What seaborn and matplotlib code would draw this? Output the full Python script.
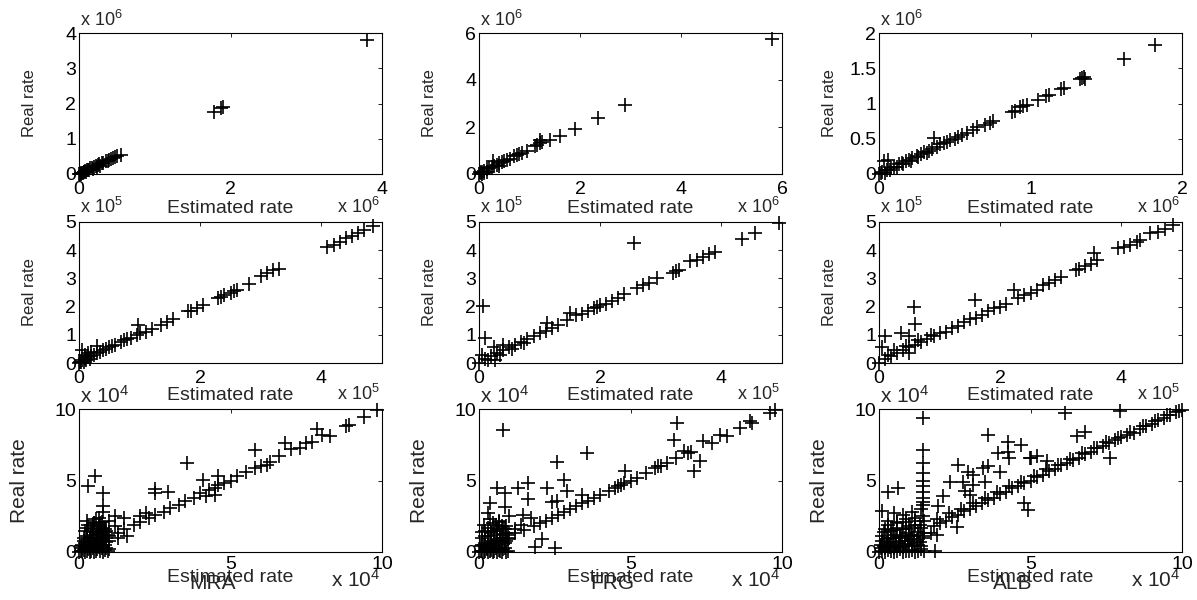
import matplotlib
matplotlib.use('Agg')
import matplotlib.pyplot as plt
import seaborn as sns

# ---------------- data (in the shown units) ----------------
methods = ['MRA', 'FRG', 'ALB']
row_exp = [6, 5, 4]          # axis multiplier 10^n for each row

# row 1 (x 10^6)
mra1_x = [3.8, 1.9, 1.87, 1.78, 0.55, 0.5, 0.47, 0.45, 0.42, 0.4, 0.38, 0.35, 0.32, 0.3,
          0.27, 0.25, 0.22, 0.2, 0.17, 0.15, 0.12, 0.1, 0.08, 0.06, 0.04, 0.02, 0.01, 0.0,
          0.03, 0.05, 0.07, 0.09, 0.13, 0.18, 0.24, 0.28]
mra1_y = [3.8, 1.9, 1.88, 1.75, 0.55, 0.52, 0.47, 0.46, 0.42, 0.41, 0.38, 0.36, 0.32, 0.31,
          0.27, 0.26, 0.22, 0.21, 0.17, 0.16, 0.12, 0.11, 0.08, 0.07, 0.04, 0.03, 0.01, 0.0,
          0.01, 0.03, 0.05, 0.06, 0.1, 0.15, 0.2, 0.24]
frg1_x = [5.8, 2.9, 2.35, 1.9, 1.6, 1.4, 1.25, 1.2, 1.2, 1.15, 1.1, 0.95, 0.85, 0.8, 0.75,
          0.7, 0.62, 0.55, 0.5, 0.45, 0.4, 0.35, 0.3, 0.27, 0.25, 0.2, 0.15, 0.1, 0.06, 0.03,
          0.0, 0.02, 0.05, 0.1, 0.15, 0.4]
frg1_y = [5.75, 2.95, 2.4, 1.9, 1.6, 1.45, 1.35, 1.45, 1.3, 1.25, 1.2, 1.0, 0.9, 0.85, 0.8,
          0.75, 0.65, 0.6, 0.55, 0.5, 0.45, 0.4, 0.35, 0.55, 0.3, 0.25, 0.2, 0.12, 0.08, 0.04,
          0.0, 0.1, 0.02, 0.05, 0.1, 0.35]
alb1_x = [1.82, 1.62, 1.35, 1.34, 1.33, 1.36, 1.22, 1.2, 1.12, 1.1, 1.05, 0.98, 0.95, 0.93,
          0.9, 0.88, 0.75, 0.73, 0.7, 0.65, 0.62, 0.58, 0.55, 0.52, 0.5, 0.47, 0.45, 0.43,
          0.4, 0.38, 0.36, 0.35, 0.33, 0.3, 0.28, 0.25, 0.22, 0.2, 0.18, 0.15, 0.13, 0.1,
          0.08, 0.06, 0.05, 0.03, 0.02, 0.01, 0.0, 0.04, 0.07, 0.12, 0.16, 0.21, 0.26, 0.32]
alb1_y = [1.83, 1.63, 1.37, 1.36, 1.35, 1.35, 1.22, 1.2, 1.12, 1.1, 1.05, 0.98, 0.96, 0.95,
          0.9, 0.88, 0.75, 0.73, 0.7, 0.66, 0.62, 0.58, 0.56, 0.52, 0.5, 0.48, 0.46, 0.44,
          0.42, 0.38, 0.51, 0.36, 0.33, 0.31, 0.28, 0.26, 0.23, 0.2, 0.19, 0.16, 0.14, 0.1,
          0.09, 0.2, 0.06, 0.18, 0.03, 0.01, 0.0, 0.02, 0.05, 0.1, 0.14, 0.19, 0.24, 0.3]

# row 2 (x 10^5)
mra2_x = [4.85, 4.7, 4.6, 4.5, 4.4, 4.3, 4.2, 4.1, 3.3, 3.2, 3.1, 3.0, 2.8, 2.6, 2.55, 2.5,
          2.4, 2.35, 2.3, 2.05, 1.95, 1.85, 1.8, 1.55, 1.45, 1.35, 1.2, 1.1, 1.0, 0.95, 0.98,
          0.85, 0.8, 0.75, 0.7, 0.6, 0.55, 0.5, 0.45, 0.4, 0.35, 0.3, 0.3, 0.25, 0.2, 0.15,
          0.1, 0.05, 0.05, 0.02, 0.0, 0.03, 0.08, 0.12, 0.18, 0.1, 0.2, 0.15]
mra2_y = [4.85, 4.7, 4.6, 4.5, 4.45, 4.3, 4.2, 4.1, 3.35, 3.3, 3.2, 3.1, 2.8, 2.6, 2.55, 2.5,
          2.4, 2.35, 2.3, 2.05, 1.95, 1.85, 1.85, 1.55, 1.45, 1.35, 1.2, 1.1, 1.05, 1.0, 1.36,
          0.9, 0.85, 0.8, 0.75, 0.65, 0.6, 0.55, 0.5, 0.45, 0.4, 0.6, 0.35, 0.3, 0.25, 0.2,
          0.15, 0.45, 0.1, 0.05, 0.0, 0.02, 0.05, 0.1, 0.15, 0.3, 0.4, 0.35]
frg2_x = [4.95, 4.56, 4.34, 2.55, 3.9, 3.8, 3.7, 3.6, 3.49, 3.3, 3.25, 3.2, 2.93, 2.8, 2.7,
          2.6, 2.4, 2.3, 2.2, 2.1, 2.0, 1.95, 1.9, 1.8, 1.5, 1.6, 1.7, 1.45, 1.3, 1.2, 1.12,
          1.1, 1.0, 0.9, 0.8, 0.7, 0.6, 0.5, 0.4, 0.4, 0.3, 0.25, 0.2, 0.1, 0.07, 0.1, 0.0,
          0.26, 0.05, 0.15, 0.35, 0.55, 0.75]
frg2_y = [4.97, 4.6, 4.39, 4.25, 3.95, 3.85, 3.75, 3.65, 3.6, 3.3, 3.25, 3.2, 3.0, 2.85, 2.75,
          2.65, 2.45, 2.3, 2.2, 2.1, 2.05, 2.0, 1.95, 1.85, 1.77, 1.7, 1.75, 1.53, 1.35, 1.25,
          1.41, 1.15, 1.05, 0.95, 0.85, 0.75, 0.65, 0.55, 0.45, 0.65, 0.35, 0.55, 0.25, 0.15,
          2.03, 0.9, 0.0, 0.12, 0.3, 0.1, 0.3, 0.5, 0.7]
alb2_x = [4.85, 4.72, 4.6, 4.48, 4.3, 4.26, 4.15, 4.05, 3.95, 3.55, 3.6, 3.5, 3.4, 3.3, 3.25,
          3.0, 2.9, 2.8, 2.7, 2.6, 2.5, 2.4, 2.3, 2.22, 2.1, 2.0, 1.9, 1.8, 1.7, 1.6, 1.59,
          1.5, 1.4, 1.3, 1.2, 1.1, 1.0, 0.9, 0.8, 0.7, 0.6, 0.5, 0.4, 0.3, 0.2, 0.1, 0.0,
          0.57, 0.6, 0.1, 0.37, 0.5, 0.05, 0.15, 0.5, 0.25, 0.45, 0.65, 0.85]
alb2_y = [4.9, 4.74, 4.65, 4.6, 4.35, 4.3, 4.2, 4.1, 4.07, 3.9, 3.65, 3.5, 3.45, 3.35, 3.3,
          3.05, 2.95, 2.85, 2.75, 2.6, 2.5, 2.4, 2.3, 2.6, 2.1, 2.0, 1.95, 1.85, 1.7, 1.6, 2.24,
          1.55, 1.45, 1.3, 1.25, 1.1, 1.05, 0.95, 0.85, 0.75, 0.65, 0.55, 0.45, 0.35, 0.25,
          0.15, 0.0, 2.0, 1.4, 0.97, 1.06, 0.95, 0.55, 0.3, 0.35, 0.45, 0.6, 0.8, 1.0]

# row 3 (x 10^4): diagonal band, scattered outliers, dense cluster near the origin
mra3_diag_x = [9.83, 9.39, 8.9, 8.8, 7.85, 8.02, 8.29, 6.8, 7.0, 7.3, 7.5, 7.7, 5.82, 6.6,
               6.3, 6.2, 6.0, 5.8, 5.5, 5.2, 5.0, 4.8, 4.6, 4.5, 4.3, 4.0, 3.8, 3.5, 3.3, 3.0,
               2.8, 2.5, 2.3, 2.0, 1.8, 1.5, 1.3, 1.0]
mra3_diag_y = [9.9, 9.44, 8.9, 8.8, 8.6, 8.2, 8.09, 7.62, 7.2, 7.3, 7.6, 7.7, 7.16, 6.7, 6.3,
               6.1, 6.0, 5.9, 5.6, 5.3, 5.0, 4.8, 4.7, 4.5, 4.35, 4.1, 3.8, 3.6, 3.3, 3.05,
               2.8, 2.6, 2.4, 2.1, 1.9, 1.6, 1.35, 1.1]
mra3_out_x = [3.56, 4.6, 4.1, 2.51, 2.51, 2.95, 0.53, 0.31, 0.8, 0.8, 0.8, 4.2, 4.5, 1.2,
              1.5, 2.0, 2.2, 1.0, 0.5]
mra3_out_y = [6.22, 5.3, 5.06, 4.4, 4.13, 4.17, 5.3, 4.6, 4.1, 3.2, 2.8, 3.9, 4.0, 2.5,
              2.4, 2.5, 2.7, 2.2, 2.0]
mra3_low_x = [0.0, 0.1, 0.2, 0.3, 0.4, 0.5, 0.6, 0.7, 0.8, 0.9, 1.0, 0.1, 0.2, 0.3, 0.4, 0.5,
              0.6, 0.7, 0.8, 0.9, 0.15, 0.25, 0.35, 0.45, 0.55, 0.65, 0.75, 0.85, 0.2, 0.4,
              0.6, 0.8, 0.3, 0.5, 0.7, 0.9, 0.25, 0.55, 0.75, 0.45, 0.65, 1.3, 1.6, 1.2, 0.05,
              0.35, 0.6, 0.85,
              0.05, 0.15, 0.25, 0.35, 0.45, 0.55, 0.65, 0.75, 0.85, 0.95, 0.1, 0.2, 0.3, 0.4,
              0.5, 0.6, 0.7, 0.8, 0.9, 1.0, 0.15, 0.35, 0.55, 0.75, 0.95, 0.25, 0.45, 0.65,
              0.85, 0.7]
mra3_low_y = [0.0, 0.1, 0.0, 0.2, 0.1, 0.0, 0.2, 0.1, 0.0, 0.3, 0.2, 0.5, 0.6, 0.4, 0.7, 0.5,
              0.8, 0.6, 0.9, 0.7, 1.0, 1.1, 0.9, 1.2, 1.0, 1.3, 1.1, 1.4, 1.5, 1.6, 1.5, 1.7,
              1.9, 2.0, 1.8, 1.5, 2.2, 2.3, 2.1, 1.8, 2.4, 1.0, 1.1, 1.8, 0.4, 0.3, 0.4, 0.5,
              0.05, 0.15, 0.1, 0.0, 0.25, 0.1, 0.35, 0.3, 0.15, 0.05, 0.3, 0.35, 0.6, 0.5,
              0.8, 0.55, 0.9, 0.45, 1.0, 0.8, 0.75, 1.0, 1.25, 1.3, 1.2, 1.7, 1.4, 1.9,
              1.6, 2.0]

frg3_diag_x = [9.78, 9.6, 8.95, 9.0, 8.62, 7.96, 7.4, 6.75, 6.9, 6.5, 6.2, 6.0, 5.8, 5.5,
               5.2, 5.0, 4.8, 4.6, 4.5, 4.3, 4.0, 3.8, 3.6, 3.4, 3.2, 3.0, 2.8, 2.6, 2.4, 2.2,
               2.0, 1.8, 1.5, 1.2, 1.0, 8.2, 7.0, 7.7, 5.9, 4.7]
frg3_diag_y = [9.9, 9.7, 9.14, 9.0, 8.67, 8.2, 7.74, 7.04, 6.9, 6.6, 6.2, 6.0, 5.9, 5.5, 5.2,
               5.0, 4.8, 4.6, 4.5, 4.3, 4.0, 3.8, 3.6, 3.4, 3.2, 3.0, 2.8, 2.6, 2.4, 2.2, 2.0,
               1.8, 1.55, 1.3, 1.0, 8.1, 7.0, 7.6, 6.0, 4.7]
frg3_out_x = [6.53, 6.42, 7.3, 7.08, 4.82, 2.79, 3.56, 2.57, 0.8, 2.24, 1.62, 1.3, 1.62, 0.6,
              0.86, 0.86, 0.36, 2.9, 2.57, 1.85, 2.08, 2.5, 1.45, 1.0, 1.7, 2.4, 3.4]
frg3_out_y = [9.02, 7.86, 6.34, 5.64, 5.64, 5.06, 6.9, 6.3, 8.55, 4.5, 4.8, 4.5, 3.7, 4.5,
              4.1, 3.15, 3.4, 4.3, 3.6, 0.35, 0.9, 0.28, 2.6, 2.5, 2.4, 3.5, 4.0]
frg3_low_x = [0.0, 0.1, 0.2, 0.3, 0.4, 0.5, 0.6, 0.7, 0.8, 0.9, 0.05, 0.15, 0.25, 0.35, 0.45,
              0.55, 0.65, 0.75, 0.85, 0.95, 0.1, 0.3, 0.5, 0.7, 0.9, 0.2, 0.4, 0.6, 0.8, 0.15,
              0.45, 0.75, 0.35, 0.65, 1.2, 1.4, 0.5, 0.3,
              0.05, 0.15, 0.25, 0.35, 0.45, 0.55, 0.65, 0.75, 0.85, 0.95, 0.1, 0.2, 0.3, 0.4,
              0.5, 0.6, 0.7, 0.8, 0.9, 0.95, 0.2, 0.4, 0.6, 0.8, 0.3, 0.55, 0.85, 0.1, 0.65,
              0.9]
frg3_low_y = [0.0, 0.05, 0.1, 0.0, 0.15, 0.05, 0.0, 0.1, 0.2, 0.0, 0.4, 0.5, 0.3, 0.6, 0.45,
              0.7, 0.55, 0.8, 0.65, 0.9, 1.0, 1.1, 1.2, 1.0, 1.3, 1.5, 1.4, 1.6, 1.7, 1.9,
              2.0, 1.8, 2.3, 2.2, 1.6, 1.9, 1.5, 2.7,
              0.1, 0.0, 0.2, 0.1, 0.0, 0.25, 0.15, 0.0, 0.3, 0.1, 0.5, 0.65, 0.45, 0.8,
              0.6, 0.9, 0.7, 1.0, 0.75, 1.2, 1.1, 1.3, 1.45, 1.25, 1.7, 1.9, 1.6, 1.4, 2.1,
              1.8]

alb3_diag_x = [10.0, 9.8, 9.6, 9.4, 9.2, 9.0, 8.8, 8.6, 8.4, 8.2, 8.0, 7.8, 7.6, 7.4, 7.2,
               7.0, 6.8, 6.6, 6.4, 6.2, 6.0, 5.8, 5.6, 5.4, 5.2, 5.0, 4.8, 4.6, 4.4, 4.2, 4.0,
               3.8, 3.6, 3.4, 3.2, 3.0, 2.8, 2.6, 2.4, 2.2, 2.0, 1.8,
               9.9, 9.5, 9.1, 8.7, 8.3, 7.9, 7.5, 7.1, 6.7, 6.3, 5.9, 5.5, 5.1, 4.7, 4.3, 3.9,
               3.5, 3.1, 2.7, 2.3, 1.9]
alb3_diag_y = [9.95, 9.8, 9.55, 9.4, 9.2, 8.95, 8.8, 8.6, 8.35, 8.2, 8.05, 7.8, 7.65, 7.4,
               7.25, 7.0, 6.85, 6.6, 6.45, 6.2, 6.05, 5.8, 5.65, 5.4, 5.25, 5.0, 4.85, 4.6,
               4.45, 4.2, 4.05, 3.8, 3.65, 3.4, 3.25, 3.0, 2.85, 2.6, 2.45, 2.2, 2.05, 1.8,
               9.85, 9.6, 9.15, 8.8, 8.4, 8.0, 7.7, 7.3, 6.9, 6.5, 6.1, 5.8, 5.3, 4.9, 4.6, 4.2,
               3.8, 3.4, 3.0, 2.7, 2.3]
alb3_out_x = [1.46, 6.15, 7.96, 3.6, 4.26, 4.7, 6.53, 6.8, 3.93, 4.26, 4.3, 5.0, 2.6, 2.94,
              3.1, 3.43, 3.6, 4.0, 2.34, 2.76, 3.1, 3.5, 2.84, 3.0, 2.1, 1.95, 4.77, 4.93,
              2.57, 1.9, 1.85, 0.3, 0.63, 0.1, 1.46, 1.46, 1.46, 1.46, 1.46, 1.46, 1.46, 5.2,
              5.54, 7.63, 4.99]
alb3_out_y = [9.37, 9.72, 9.84, 8.2, 7.7, 7.5, 8.09, 8.37, 6.9, 7.0, 6.6, 6.6, 6.1, 5.6, 5.4,
              5.9, 6.0, 5.6, 4.9, 4.9, 4.7, 4.9, 4.3, 4.0, 3.9, 3.2, 3.43, 2.96, 1.75, 1.2,
              0.05, 4.2, 4.5, 2.9, 7.1, 6.2, 5.5, 5.0, 4.6, 4.2, 3.8, 6.69, 6.34, 6.57, 6.57]
alb3_low_x = [0.0, 0.1, 0.2, 0.3, 0.4, 0.5, 0.6, 0.7, 0.8, 0.9, 1.0, 1.1, 1.2, 1.3, 1.4, 1.5,
              0.05, 0.15, 0.25, 0.35, 0.45, 0.55, 0.65, 0.75, 0.85, 0.95, 1.05, 1.15, 1.25,
              1.35, 1.45, 0.1, 0.3, 0.5, 0.7, 0.9, 1.1, 1.3, 1.5, 0.2, 0.4, 0.6, 0.8, 1.0, 1.2,
              1.4, 0.3, 0.6, 0.9, 1.2, 1.45, 0.5, 0.8, 1.1, 1.4, 1.45, 1.45, 1.7,
              0.05, 0.2, 0.35, 0.5, 0.65, 0.8, 0.95, 1.1, 1.25, 1.4, 0.1, 0.25, 0.4, 0.55, 0.7,
              0.85, 1.0, 1.15, 1.3, 1.45, 0.15, 0.45, 0.75, 1.05, 1.35, 0.3, 0.6, 0.9, 1.2,
              1.5]
alb3_low_y = [0.0, 0.1, 0.0, 0.15, 0.05, 0.0, 0.1, 0.2, 0.0, 0.1, 0.05, 0.15, 0.0, 0.1, 0.2,
              0.05, 0.5, 0.4, 0.6, 0.45, 0.7, 0.5, 0.65, 0.8, 0.55, 0.75, 0.9, 0.6, 0.85, 0.7,
              1.0, 1.1, 1.0, 1.2, 1.1, 1.3, 1.2, 1.4, 1.3, 1.6, 1.5, 1.7, 1.6, 1.8, 1.9, 1.7,
              2.2, 2.1, 2.3, 2.2, 2.5, 2.7, 2.6, 2.8, 3.0, 3.3, 3.5, 1.3,
              0.3, 0.25, 0.35, 0.3, 0.4, 0.35, 0.45, 0.4, 0.5, 0.45, 0.8, 0.9, 0.95, 1.0, 1.05,
              1.0, 1.1, 1.15, 1.2, 1.1, 1.4, 1.55, 1.6, 1.7, 1.9, 1.9, 2.0, 2.1, 2.4,
              2.2]

panels = {
    (0, 0): (mra1_x, mra1_y),
    (0, 1): (frg1_x, frg1_y),
    (0, 2): (alb1_x, alb1_y),
    (1, 0): (mra2_x, mra2_y),
    (1, 1): (frg2_x, frg2_y),
    (1, 2): (alb2_x, alb2_y),
    (2, 0): (mra3_diag_x + mra3_out_x + mra3_low_x, mra3_diag_y + mra3_out_y + mra3_low_y),
    (2, 1): (frg3_diag_x + frg3_out_x + frg3_low_x, frg3_diag_y + frg3_out_y + frg3_low_y),
    (2, 2): (alb3_diag_x + alb3_out_x + alb3_low_x, alb3_diag_y + alb3_out_y + alb3_low_y),
}

# axis limits / ticks
lims = {(0, 0): 4, (0, 1): 6, (0, 2): 2}
xticks = {(0, 0): [0, 2, 4], (0, 1): [0, 2, 4, 6], (0, 2): [0, 1, 2]}
yticks = {(0, 0): [0, 1, 2, 3, 4], (0, 1): [0, 2, 4, 6], (0, 2): [0, 0.5, 1, 1.5, 2]}
for c in range(3):
    lims[(1, c)] = 5
    xticks[(1, c)] = [0, 2, 4]
    yticks[(1, c)] = [0, 1, 2, 3, 4, 5]
    lims[(2, c)] = 10
    xticks[(2, c)] = [0, 5, 10]
    yticks[(2, c)] = [0, 5, 10]

# ---------------- style ----------------
sns.set_style('white')
plt.rcParams['font.family'] = ['Liberation Sans', 'DejaVu Sans']
plt.rcParams['mathtext.fontset'] = 'custom'
plt.rcParams['mathtext.rm'] = 'Liberation Sans'
plt.rcParams['mathtext.it'] = 'Liberation Sans'
plt.rcParams['mathtext.default'] = 'regular'

W, H = 1197, 600
fig = plt.figure(figsize=(W / 100, H / 100), dpi=100)
fig.patch.set_facecolor('white')

col_left = [79, 479, 879]
ax_w = 303
row_top = [33, 222, 409]
row_h = [141, 141, 143]

xlab_base = [39, 37, 30]      # px below axes bottom (baseline of xlabel)
yoff_base = [7, 9, 6]         # px above axes top (baseline of y multiplier)
xoff_base = [39, 37, 35]      # px below axes bottom (baseline of x multiplier)
ylab_gap = [42, 42, 50]
ylab_size = [12, 12, 15]
mult_size = [13, 13, 15]
tick_pad = [5, 5, 3]

for r in range(3):
    for c in range(3):
        left = col_left[c] / W
        bottom = 1 - (row_top[r] + row_h[r]) / H
        ax = fig.add_axes([left, bottom, ax_w / W, row_h[r] / H])
        xs, ys = panels[(r, c)]
        sns.scatterplot(x=xs, y=ys, ax=ax, marker='+', color='black', s=100,
                        linewidth=1.2, legend=False, clip_on=False, zorder=3)
        lim = lims[(r, c)]
        ax.set_xlim(0, lim)
        ax.set_ylim(0, lim)
        ax.set_xticks(xticks[(r, c)])
        ax.set_yticks(yticks[(r, c)])
        ax.set_xticklabels(['%g' % t for t in xticks[(r, c)]])
        ax.set_yticklabels(['%g' % t for t in yticks[(r, c)]])
        ax.tick_params(direction='in', length=3, width=0.6, top=True, right=True,
                       labelsize=14, colors='black')
        ax.tick_params(axis='x', pad=tick_pad[r])
        ax.tick_params(axis='y', pad=2)
        for sp in ax.spines.values():
            sp.set_linewidth(0.8)
            sp.set_color('black')

        ax.set_xlabel('Estimated rate', fontsize=14, va='baseline')
        ax.xaxis.set_label_coords(0.5, -xlab_base[r] / row_h[r])
        ax.set_ylabel('Real rate', fontsize=ylab_size[r])
        ax.yaxis.set_label_coords(-ylab_gap[r] / ax_w, 0.5)

        mult = r'x 10$^{%d}$' % row_exp[r]
        ax.annotate(mult, xy=(0, 1), xycoords='axes fraction', xytext=(1, yoff_base[r]),
                    textcoords='offset pixels', ha='left', va='baseline',
                    fontsize=mult_size[r])
        ax.annotate(mult, xy=(1, 0), xycoords='axes fraction', xytext=(-2, -xoff_base[r]),
                    textcoords='offset pixels', ha='right', va='baseline',
                    fontsize=mult_size[r])

        if r == 2:
            # method name under each column (sits on the x label, as in the source figure)
            ax.annotate(methods[c], xy=(0.5, 0), xycoords='axes fraction',
                        xytext=(-18, -37), textcoords='offset pixels',
                        ha='center', va='baseline', fontsize=15)

fig.savefig('out.png', dpi=100, facecolor='white')
